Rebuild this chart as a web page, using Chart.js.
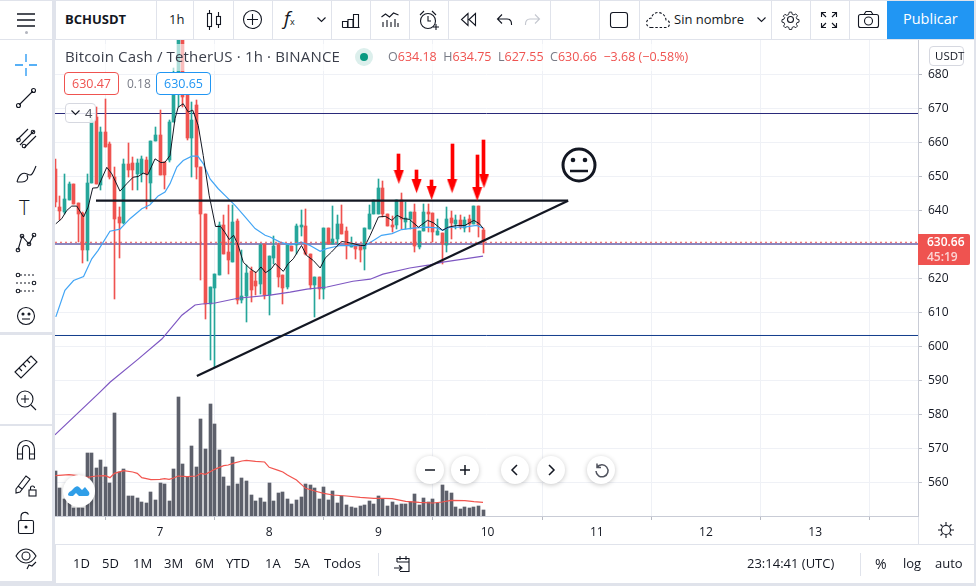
<!DOCTYPE html>
<html><head><meta charset="utf-8">
<script src="https://cdn.jsdelivr.net/npm/chart.js@4/dist/chart.umd.js"></script>
<style>
html,body{margin:0;padding:0;background:#e0e3eb;width:976px;height:586px;overflow:hidden;font-family:"Open Sans","Noto Sans",sans-serif;color:#131722}
.p{position:absolute;background:#fff}
.t{position:absolute;white-space:nowrap;line-height:1;font-size:13px}
.d{position:absolute;background:#e0e3eb;width:1px}
svg.i{position:absolute;overflow:visible;fill:none;stroke:#131722;stroke-width:1.1}
.c{position:absolute;border-radius:50%;background:#fff;box-shadow:0 1px 5px rgba(0,0,0,.22)}
canvas{position:absolute;left:55px;top:40px}
</style></head><body>
<div class="p" style="left:0;top:1px;width:52px;height:38px"></div>
<div class="p" style="left:56px;top:1px;width:918px;height:38px"></div>
<div class="p" style="left:0;top:40px;width:52px;height:292px"></div>
<div class="p" style="left:0;top:335px;width:52px;height:89px"></div>
<div class="p" style="left:0;top:426px;width:52px;height:155px"></div>
<div class="p" style="left:55px;top:40px;width:919px;height:504px"></div>
<div class="p" style="left:56px;top:545px;width:918px;height:38px"></div>
<canvas id="c" width="919" height="504" style="width:919px;height:504px"></canvas>
<div id="ui"></div>
<script>
// --- time axis (hours after the start of day 7) ---
const tickHours=[0,24,48,72,96,120,144];
const tickLabels=['7','8','9','10','11','12','13'];
const priceTicks=[560,570,580,590,600,610,620,630,640,650,660,670,680];
const firstHour=-23;
// --- candles, one per hour from firstHour ---
const opens=[652.2,641.0,639.5,643.1,647.8,642.2,639.3,628.4,648.1,667.5,647.5,663.1,659.5,649.8,638.1,636.3,653.7,654.0,650.7,650.7,654.9,648.1,660.4,662.2,654.3,654.9,666.0,674.2,692,674.8,661.2,671.0,652.8,639.0,612.5,617.2,621.0,635.7,627.8,624.8,636.9,613.7,614.8,622.2,619.3,618.4,630.1,615.1,626.0,629.8,621.0,617.5,629.5,629.8,635.1,635.4,627.2,618.1,620.4,616.9,634.8,630.1,631.6,636.0,633.9,629.2,629.8,629.8,628.7,634.5,639.0,639.0,646.6,639.0,635.7,635.7,643.1,636.6,637.5,639.5,629.2,633.9,639.5,639.3,632.8,633.4,629.8,637.8,636.0,637.2,634.8,637.5,636.0,641.3,634.18];
const highs=[655.1,644.3,650.7,648.4,647.8,642.2,639.6,650.7,667.5,670.4,664.6,672.8,660.1,652.8,641.0,655.1,659.8,655.7,655.1,656.0,655.7,660.4,664.6,669.6,654.3,666.6,681.9,695,695,675.9,671.9,672.5,652.8,639.0,617.5,621.3,636.6,638.7,641.6,641.6,637.5,628.4,623.9,623.4,621.9,630.1,630.1,626.6,632.5,630.4,621.0,629.8,629.5,636.0,640.1,640.4,627.2,620.4,620.4,634.8,634.8,641.3,638.7,641.6,635.1,632.2,629.8,629.8,634.8,641.6,643.1,649.3,648.7,639.0,638.4,643.1,645.1,642.5,639.5,641.9,633.9,641.9,641.9,639.3,637.5,633.4,641.0,639.8,638.7,638.7,638.1,638.7,641.3,641.3,634.75];
const lows=[641.0,637.2,639.0,643.1,641.9,630.7,624.5,625.1,648.1,647.8,646.0,658.6,649.3,614.0,626.0,636.0,649.8,646.0,646.0,648.4,640.4,642.5,660.4,650.4,646.3,654.3,666.0,670.4,670.4,660.7,649.8,649.3,619.5,608.1,596.0,594.0,621.0,627.2,621.3,624.8,612.5,612.8,607.2,613.1,615.1,615.4,614.0,609.2,624.2,617.5,612.5,616.9,628.1,627.2,632.5,626.9,616.9,608.6,614.0,614.0,630.1,630.1,630.1,633.1,625.7,629.2,625.7,624.8,622.5,634.5,639.0,639.0,638.1,635.4,633.6,634.5,634.5,634.5,634.5,627.8,628.7,633.9,633.6,630.7,632.8,624.2,627.8,631.6,634.5,634.5,633.6,633.6,636.0,632.2,627.55];
const closes=[642.5,639.8,643.4,647.8,641.9,639.0,628.4,648.1,666.6,647.8,663.1,658.6,649.8,637.5,636.3,653.7,651.9,651.9,654.0,655.1,650.7,660.4,662.2,650.4,650.4,666.0,674.8,692,673.4,661.3,666.6,652.8,639.0,612.5,617.5,621.3,635.7,627.2,625.4,636.6,613.7,614.8,621.6,616.6,617.8,629.8,615.1,626.6,629.5,620.4,617.2,629.8,628.1,635.4,635.7,627.2,618.1,620.4,616.9,634.8,630.1,631.6,636.0,633.1,629.8,629.8,628.7,628.4,634.8,639.0,643.1,646.6,639.0,635.4,635.1,643.1,637.5,637.8,639.5,629.5,633.9,639.5,639.0,633.6,633.9,630.1,637.5,636.3,637.2,635.1,637.2,636.0,641.3,635.7,630.66];
const volumes=[135,84,50,38,23,23,23,189,189,144,168,147,99,309,132,141,60,60,54,42,39,72,48,99,96,45,141,357,156,117,210,147,291,201,336,276,198,117,90,177,96,114,105,63,45,54,42,99,45,69,72,51,36,48,57,96,93,84,51,87,48,75,39,60,33,27,24,30,33,45,36,60,51,30,42,33,36,36,42,66,33,54,42,51,39,93,75,69,27,21,27,24,27,30,18];
// --- moving averages ---
const blackHours=[-22.9,-21.6,-20.5,-19.4,-18.3,-16.8,-15.8,-14.8,-13.7,-11.7,-10.6,-8.8,-7.3,-5.9,-4.8,-3.7,-2.7,-1.1,0.2,1.1,2.2,3.3,4.0,5.1,6.2,7.2,8.4,9.5,10.8,12.2,13.3,14.3,15.2,16.2,17.2,18.3,19.8,21.1,22.2,23.2,24.5,25.3,27.1,28.2,29.3,31.1,32.2,33.7,35.2,36.3,37.7,39.9,42.1,44.1,45.1,46.2,48.0,49.5,51.0,52.1,53.5,54.8,56.8,58.8,60.1,62.1,63.4,65.2,67.0,69.0,70.2,71.0];
const blackValues=[636.1,637.6,640.0,641.3,641.3,638.1,641.0,646.6,646.7,652.7,650.8,645.7,647.9,649.8,650.0,651.0,650.5,655.2,654.1,654.2,656.2,667.0,670.4,671.4,669.0,669.5,665.0,656.2,644.5,635.3,635.3,633.5,631.5,632.7,629.7,624.8,622.9,621.7,623.4,621.7,622.9,624.4,622.1,624.4,625.8,629.7,626.8,625.3,623.1,626.0,627.8,630.9,630.4,629.7,629.7,632.7,638.1,638.3,637.1,638.6,637.6,637.4,635.1,637.1,636.4,634.2,635.1,635.6,635.6,637.1,636.1,634.8];
const blueHours=[-22.9,-20.9,-19.0,-16.8,-15.0,-13.6,-11.0,-8.8,-6.6,-4.0,-2.2,-0.4,1.1,2.2,3.7,5.1,7.0,8.3,9.5,11.0,12.8,15.0,16.5,18.7,20.9,23.1,24.2,26.4,28.6,31.1,33.0,35.2,36.6,39.6,42.5,45.1,46.9,48.7,51.0,53.1,55.7,58.6,60.8,62.1,63.7,66.7,69.6,71.0];
const blueValues=[608.7,616.5,619.4,620.6,625.8,628.3,633.9,634.5,637.6,640.5,641.7,644.3,645.4,647.9,652.8,654.7,656.0,656.0,653.8,649.3,646.4,643.5,641.5,638.1,634.7,632.7,632.2,630.7,629.9,630.7,629.7,628.0,628.8,629.7,629.7,629.7,631.2,632.7,633.2,634.4,634.8,635.1,634.9,634.2,635.1,635.1,635.6,634.8];
const purpleHours=[-23.1,-13.2,-11.0,-4.8,0.4,4.8,7.7,9.2,12.1,17.1,24.2,28.6,32.3,36.7,42.4,46.2,49.0,54.9,59.3,62.2,66.6,71.0];
const purpleValues=[574.0,586.6,589.5,596.3,602.2,609.2,612.2,612.5,612.8,614.2,615.1,616.0,616.9,617.5,619.2,619.8,621.3,623.1,624.0,624.8,625.7,626.6];
const volMaHours=[-23,-20,-18,-16,-14,-12,-11,-10,-8,-6,-5,-4,-2,0,1,2,3,4,6,8,9,10,12,14,15,16,18,19,21,23,24,26,27,28,30,32,34,36,38,41,44,47,49,51,54,57,60,62,64,67,69,71];
const volMaValues=[121,124,121,116,120,121,115,128,136,132,128,115,109,110,112,110,114,120,118,120,128,125,140,151,153,158,165,167,164,162,146,137,132,123,108,83,75,68,63,60,56,53,53,52,44,41,39,42,47,46,43,41];
// --- horizontal levels and drawings ---
const levels=[668.53,603.24];
const lastPrice=630.66;
const bidLine=630.15;
const flatLineHours=[-14.07,89.7];
const flatLineValues=[642.9,642.9];
const riseLineHours=[8.1,89.7];
const riseLineValues=[591.3,642.9];
const arrowHours=[52.5,56.4,59.7,64.2,69.7,71.2];
const arrowTops=[656.6,651.9,648.9,659.5,656.3,660.7];
const arrowTips=[647.8,645.1,643.1,645.1,642.8,646.6];

const UP='#26a69a',DOWN='#ef5350';
const X0=firstHour-0.08,X1=166.6;
const hourOf=i=>firstHour+i;
const pts=(xs,ys)=>xs.map((x,i)=>({x,y:ys[i]}));
const colours=opens.map((o,i)=>closes[i]>=o?UP:DOWN);
const line=(data,color,width,order,extra)=>Object.assign({type:'line',data,borderColor:color,borderWidth:width,pointRadius:0,tension:0,fill:false,order,yAxisID:'y'},extra||{});
const bar=(data,color,thick,order,axis)=>({type:'bar',data,backgroundColor:color,borderWidth:0,barThickness:thick,grouped:false,order,yAxisID:axis||'y',borderSkipped:false});

// arrow head whose tip sits at the middle of the sprite
const head=document.createElement('canvas');head.width=11;head.height=28;
{const g=head.getContext('2d');g.fillStyle='#ff0000';g.beginPath();g.moveTo(0.5,0);g.lineTo(10.5,0);g.lineTo(5.5,14);g.closePath();g.fill();}

// keep bars on whole pixels, as the original renderer does
const crispBars={id:'crispBars',beforeDatasetsDraw(chart){
  chart.getSortedVisibleDatasetMetas().forEach(m=>{
    if(m.type!=='bar')return;
    m.data.forEach(el=>{el.x=Math.floor(el.x)+0.5;el.y=Math.round(el.y);el.base=Math.round(el.base);
      if(el.y===el.base)el.base=el.y+1;});
  });
}};

new Chart(document.getElementById('c'),{
 plugins:[crispBars],
 data:{datasets:[
  bar(volumes.map((v,i)=>({x:hourOf(i),y:v})),'#5d606b',3,20,'yv'),
  line(pts(volMaHours,volMaValues),'#f2554f',1.2,19,{yAxisID:'yv'}),
  line(pts([X0,X1],[bidLine,bidLine]),'#8d86bd',2,15),
  line(pts([X0,X1],[levels[0],levels[0]]),'#2a2a7a',1,14),
  line(pts([X0,X1],[levels[1],levels[1]]),'#123c8c',1,14),
  bar(opens.map((o,i)=>({x:hourOf(i),y:[lows[i],highs[i]]})),colours,1,12),
  bar(opens.map((o,i)=>({x:hourOf(i),y:[o,closes[i]]})),colours,3,11),
  line(pts(purpleHours,purpleValues),'#7e57c2',1.2,9),
  line(pts(blueHours,blueValues),'#42a5f5',1.2,8),
  line(pts(blackHours,blackValues),'#131722',1,7),
  line(pts([X0,X1],[lastPrice,lastPrice]),'#ef5350',1,6,{borderDash:[2,3]}),
  line(pts(flatLineHours,flatLineValues),'#131722',2.2,3),
  line(pts(riseLineHours,riseLineValues),'#131722',2.2,3),
  bar(arrowHours.map((h,i)=>({x:h,y:[arrowTips[i]+2,arrowTops[i]]})),'#ff0000',3,2),
  {type:'line',data:pts(arrowHours,arrowTips),showLine:false,pointStyle:head,pointRadius:5,order:1,yAxisID:'y'}
 ]},
 options:{
  responsive:false,animation:false,devicePixelRatio:1,
  layout:{padding:0,autoPadding:false},
  plugins:{legend:{display:false},tooltip:{enabled:false}},
  scales:{
   x:{type:'linear',offset:false,min:X0,max:X1,
      grid:{color:'#eff1f6',tickLength:4,tickColor:'#b8bbc4'},
      border:{color:'#c9ccd6'},
      afterBuildTicks:s=>{s.ticks=tickHours.map(v=>({value:v}));},
      afterFit:s=>{s.height=28;s.paddingLeft=0;s.paddingRight=0;},
      ticks:{autoSkip:false,maxRotation:0,color:'#131722',padding:5,font:{family:'"Open Sans"',size:12},
             callback:v=>tickLabels[tickHours.indexOf(v)]}},
   y:{position:'right',min:550.15,max:690.15,
      grid:{color:'#eff1f6',tickLength:4,tickColor:'#b8bbc4'},
      border:{color:'#c9ccd6'},
      afterBuildTicks:s=>{s.ticks=priceTicks.map(v=>({value:v}));},
      afterFit:s=>{s.width=56;s.paddingTop=0;s.paddingBottom=0;},
      ticks:{autoSkip:false,color:'#131722',padding:6,font:{family:'"Open Sans"',size:12},callback:v=>String(v)}},
   yv:{display:false,min:0,max:1428}
  }
 }
});

// --- surrounding interface ---
let h='';
const T=(x,y,s,st)=>{h+=`<div class="t" style="left:${x}px;top:${y}px;${st||''}">${s}</div>`;};
const D=(x,y,ht)=>{h+=`<div class="d" style="left:${x}px;top:${y}px;height:${ht}px"></div>`;};
const S=(x,y,w,ht,b,st)=>{h+=`<svg class="i" style="left:${x}px;top:${y}px;${st||''}" width="${w}" height="${ht}" viewBox="0 0 ${w} ${ht}">${b}</svg>`;};
const box=(x,y,w,ht,st)=>{h+=`<div style="position:absolute;left:${x}px;top:${y}px;width:${w}px;height:${ht}px;box-sizing:border-box;${st}"></div>`;};

// top bar
[156,193,233,272,331,370,409,448,550,599,639,771,810,849].forEach(x=>D(x,1,38));
S(17,13,18,14,'<path stroke-width="1.6" d="M0 1h18M0 7h18M0 13h18"/>');
h+='<div style="position:absolute;left:25px;top:31px;width:3px;height:3px;border-radius:50%;background:#b2b5be"></div>';
T(65,13,'BCHUSDT','font-weight:700;font-size:13px');
T(169,13,'1h');
S(207,10,18,20,'<rect x=".5" y="3.5" width="4" height="13"/><path d="M2.5 0v3M2.5 17v3"/><rect x="9.5" y="6.5" width="4" height="8"/><path d="M11.5 2v4M11.5 15v3"/>');
S(243,10,19,19,'<circle cx="9.5" cy="9.5" r="9"/><path d="M9.5 4v11M4 9.5h11"/>');
T(284,9,'<i>f</i><span style="font-size:9px">x</span>','font-size:19px');
S(317,17,9,5,'<path d="M.5 .5l4 4 4-4"/>');
S(342,13,18,15,'<path d="M.5 14.5h17M.5 14.5v-6h5v6M6 14.5V6.5h5v8M11.5 14.5V1.5h5v13"/>');
S(381,11,18,17,'<path d="M.5 6l4-3 4 3 4-4 5 2"/><path d="M2 16v-5M6 16v-7M10 16v-5M14 16v-8M17 16v-4"/>');
S(419,10,20,21,'<circle cx="9" cy="11" r="7.5"/><path d="M9 6v5h3M1 5l4-4M13 1l4 4M14 17h6M17 14v6"/>');
S(461,13,15,13,'<path d="M7 .5L.5 6.5 7 12.5zM14.5 .5L8 6.5l6.5 6z"/>');
S(497,14,15,12,'<path d="M5 .5L.5 5 5 9.5M.5 5H10c3 0 4.500 2 4.500 5v1"/>');
S(525,14,15,12,'<path stroke="#c4c7cf" d="M10 .5L14.500 5 10 9.500M14.500 5H5C2 5 .5 7 .5 10v1"/>');
S(610,12,18,16,'<rect x=".5" y=".5" width="17" height="15" rx="2.500"/>');
S(646,12,24,16,'<path stroke-dasharray="2.500 1.800" d="M5 15.500H20c2.500 0 3.500-2 3.500-4s-1.500-3.500-3.500-3.500C19.500 3.500 16 .5 12 .5 8.500.5 6 3 5.500 6 2.500 6.500.5 8.500.5 11c0 2.500 2 4.500 4.500 4.500z"/>');
T(674,13,'Sin nombre');
S(757,17,9,5,'<path d="M.5 .5l4 4 4-4"/>');
S(781,10,19,19,'<circle cx="9.500" cy="9.500" r="3"/><path d="M8 .5h3l.5 2.500 2.200 1 2.300-1.300 2 2.200-1.400 2.200.8 2 2.500.6v3l-2.500.6-.8 2 1.400 2.200-2 2-2.300-1.300-2.200 1-.5 2.500H8l-.5-2.500-2.200-1-2.300 1.300-2-2 1.400-2.200-.8-2-2.500-.6v-3l2.500-.6.8-2L.7 5.400l2-2.200L5 4.500l2.200-1z" transform="translate(1.700 1.700) scale(.82)"/>');
S(821,12,16,16,'<path d="M.5 5V.5H5M11 .5h4.500V5M.5 11v4.500H5M15.500 11v4.500H11M1 1l4 4M15 1l-4 4M1 15l4-4M15 15l-4-4"/>');
S(858,11,21,17,'<rect x=".5" y="3.500" width="20" height="13" rx="2"/><path d="M6 3.500l2-3h5l2 3"/><circle cx="10.500" cy="10" r="4"/>');
box(887,1,87,38,'background:#2196f3');
T(903,12,'Publicar','color:#fff;font-size:14.5px;font-weight:500');

// left toolbar
S(15,54,22,22,'<path stroke="#2196f3" stroke-width="1.300" d="M11 0v8M11 14v8M0 11h8M14 11h8"/>');
S(16,88,20,20,'<path d="M3 17L17 3"/><circle cx="2.500" cy="17.500" r="2"/><circle cx="17.500" cy="2.500" r="2"/>');
S(16,128,21,21,'<path d="M1 12L12 1M4 17L18 3M8 20L20 8"/><circle cx="2.500" cy="12" r="1.800"/><circle cx="17" cy="4" r="1.800"/><circle cx="8" cy="18" r="1.800"/>');
S(16,165,21,19,'<path d="M1 17c2-8 6-10 10-8s5 2 9-8M1 17h5c4 0 7-3 5-7"/>');
T(19,198,'T','font-size:20px;font-weight:300');
S(16,232,20,21,'<path d="M2 18L6 4l7 8 5-9"/><circle cx="2" cy="18" r="1.800"/><circle cx="6" cy="4" r="1.800"/><circle cx="13" cy="12" r="1.800"/><circle cx="18" cy="3" r="1.800"/>');
S(15,272,22,22,'<path stroke-dasharray="2 2" d="M1 3h20M1 11h20M1 19h20"/><circle cx="3" cy="3" r="1.800" fill="#fff"/><circle cx="19" cy="11" r="1.800" fill="#fff"/><circle cx="3" cy="19" r="1.800" fill="#fff"/>');
S(17,307,18,18,'<circle cx="9" cy="9" r="8.500"/><circle cx="6" cy="7" r="1" fill="#131722"/><circle cx="12" cy="7" r="1" fill="#131722"/><path d="M5 12h8"/>');
S(14,355,24,23,'<path d="M1 17L17 1l6 6L7 23z" /><path d="M5 13l3 3M9 9l3 3M13 5l3 3"/>');
S(16,390,20,21,'<circle cx="9" cy="9" r="8"/><path d="M9 5v8M5 9h8M15 15l5 5"/>');
S(17,440,18,20,'<path d="M.5 19V9a8.500 8.500 0 0117 0v10h-5V9a3.500 3.500 0 00-7 0v10zM.5 14h5M12.500 14h5"/>');
S(15,475,22,23,'<path d="M1 14L11 1l4 3L5 17l-4 1zM3 11l4 3"/><rect x="14" y="15" width="7" height="6"/><path d="M15.500 15v-2a2 2 0 014 0"/>');
S(18,512,16,22,'<rect x=".5" y="8.500" width="15" height="13" rx="1.500"/><path d="M3 8.500V4.500a4 4 0 017.500-2"/><circle cx="8" cy="15" r="1" fill="#131722"/>');
S(15,548,23,22,'<path d="M1 8c3-5 7-7 10-7s7 2 10 7c-3 5-7 7-10 7S4 13 1 8z"/><circle cx="11" cy="8" r="4"/><path d="M12 21l2-4 3 1 4-4"/>');

// legend
box(62,44,640,27,'background:rgba(255,255,255,.62)');
T(65,49,'Bitcoin Cash / TetherUS · 1h · BINANCE','font-size:15px;letter-spacing:.15px;color:#3a3e4a');
h+='<div style="position:absolute;left:355px;top:48px;width:18px;height:18px;border-radius:50%;background:#dcefec"></div><div style="position:absolute;left:360px;top:53px;width:8px;height:8px;border-radius:50%;background:#089981"></div>';
T(388,51,'<span style="color:#787b86">O</span>634.18 <span style="color:#787b86">&nbsp;H</span>634.75 <span style="color:#787b86">&nbsp;L</span>627.55 <span style="color:#787b86">&nbsp;C</span>630.66 &nbsp;−3.68 (−0.58%)','color:#ef5350;font-size:12.500px');
box(64,72,55,23,'background:#fff;border:1px solid #ef5350;border-radius:4px');
T(72,78,'630.47','color:#ef5350;font-size:12.500px');
T(127,78,'0.18','color:#787b86;font-size:12px');
box(156,72,55,23,'background:#fff;border:1px solid #2196f3;border-radius:4px');
T(164,78,'630.65','color:#2196f3;font-size:12.500px');
box(65,103,31,20,'background:rgba(255,255,255,.85);border:1px solid #d6d8e0;border-radius:4px');
S(71,110,9,5,'<path d="M.5 .5l4 4 4-4"/>');
T(85,107,'4','color:#50535e');

// right scale widgets
box(929,46,35,20,'background:#fff;border:1px solid #d6d8e0;border-radius:4px');
T(935,50,'USDT','font-size:11.500px');
box(918,234,52,31,'background:#ef5350;border-radius:0 2px 2px 0');
T(927,236,'630.66','color:#fff;font-size:12px;font-weight:600');
T(927,251,'45:19','color:#fbd5d4;font-size:12px;font-weight:600');
D(918,517,27);
S(938,522,16,16,'<circle cx="8" cy="8" r="4.500"/><path d="M8 0v3M8 13v3M0 8h3M13 8h3M2.500 2.500l2 2M11.500 11.500l2 2M2.500 13.500l2-2M11.500 4.500l2-2"/>');

// smiley
S(561,147,36,36,'<circle cx="18" cy="18" r="16" stroke-width="3"/><circle cx="12" cy="13" r="2.300" fill="#131722" stroke="none"/><circle cx="24" cy="13" r="2.300" fill="#131722" stroke="none"/><path stroke-width="2.500" d="M9 24h18"/>');

// floating buttons
[[430,'<path stroke-width="1.500" d="M3 8h10"/>'],[465,'<path stroke-width="1.500" d="M3 8h10M8 3v10"/>'],[515,'<path stroke-width="1.500" d="M10 3L5 8l5 5"/>'],[551,'<path stroke-width="1.500" d="M6 3l5 5-5 5"/>'],[601,'<path stroke-width="1.500" stroke="#50535e" d="M4 5.500a6 6 0 11-1 3.500M4 1.500v4h4"/>']].forEach(b=>{
 h+=`<div class="c" style="left:${b[0]-14}px;top:456px;width:28px;height:28px"></div>`;
 S(b[0]-8,462,16,16,b[1]);
});
h+='<div class="c" style="left:63px;top:475px;width:32px;height:32px"></div>';
S(68,484,22,14,'<path fill="#2f9ee8" stroke="none" d="M0 11c0-2 1-3 3-4l3-3c1-1 3-3 5-1l3 3 3-3 4 5c1 2 0 4-2 4H11l-3-3-3 3H2c-1 0-2-1-2-1z"/>');

// bottom bar
[['1D',73],['5D',102],['1M',133],['3M',164],['6M',195],['YTD',226],['1A',265],['5A',294],['Todos',324]].forEach(a=>T(a[1],557,a[0]));
D(378,553,23);
S(394,555,18,18,'<path d="M3 7V3.500h12v13H6M3 7h12M6 1v4M12 1v4M0 13h7M5 10.500L8 13l-3 2.500"/>');
T(747,557,'23:14:41 (UTC)');
D(860,553,23);
T(875,557,'%','font-size:14px');
T(903,557,'log');
T(935,557,'auto');
document.getElementById('ui').innerHTML=h;
</script>
</body></html>
